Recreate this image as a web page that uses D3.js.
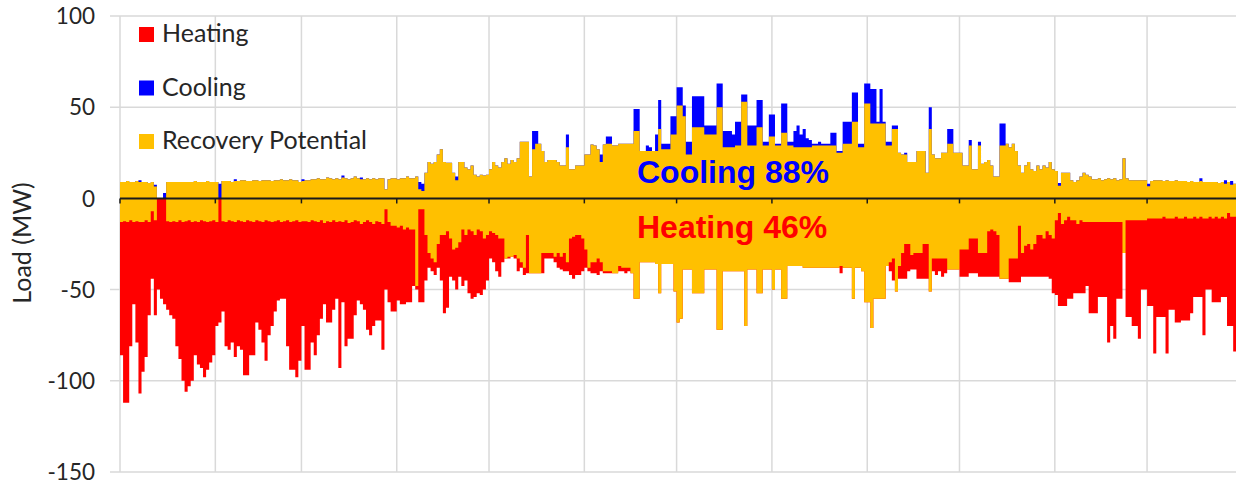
<!DOCTYPE html>
<html>
<head>
<meta charset="utf-8">
<script src="https://cdn.jsdelivr.net/npm/d3@7"></script>
<style>
  body { margin: 0; background: #fff; }
  text { font-family: Lato, "Open Sans", sans-serif; fill: #262626; }
</style>
</head>
<body>
<div id="chart"></div>
<script>
// daily values (MW), one per day of the year
var coolRec = [
  9, 9, 9.5, 9, 9, 9.5, 9, 9, 9, 8.5,
  9, 6.5, 0, 0, 0, 9, 9, 9, 9, 9,
  9, 9, 9, 9, 9.5, 9, 9, 9, 9.5, 9,
  9, 9, 0, 9.5, 9.5, 9.5, 9, 9.5, 9.5, 10,
  10, 9.5, 9.5, 10, 10, 9.5, 10, 10, 10, 9.5,
  10, 10, 10.5, 10, 10, 10.5, 10, 10, 9, 9.5,
  10, 10, 10.5, 10.5, 11, 10.5, 10.5, 11.5, 11, 10.5,
  11, 10.5, 11.5, 11, 10.5, 11, 12, 11, 10.5, 10.5,
  11, 10.5, 11, 10.5, 11, 11, 5, 10.5, 11, 11,
  10.5, 11, 11, 12, 11, 11, 12, 5, 4, 14,
  20, 19, 20, 24, 27, 20, 19.5, 19.5, 14, 10,
  20, 20, 17, 16, 18, 13, 12, 13, 12.5, 13,
  16, 20, 18, 17, 20, 22, 19, 21, 20, 22,
  31, 31, 31, 12, 27, 30, 30, 26, 20, 21,
  21, 21, 20, 18, 18, 28, 16, 16, 18, 18,
  18, 24, 24, 29.5, 29, 27, 20, 29.5, 30, 30,
  29, 29, 30, 30, 30, 30, 30, 37, 37,
  26, 26, 26, 26, 26, 26, 38, 27, 27, 27,
  35, 35, 51, 51, 45, 24, 24, 39, 39, 39,
  39, 35, 35, 35, 35, 50, 50, 28, 28, 28,
  28, 29, 29, 53, 53, 29, 29, 29, 39, 39,
  29, 29, 34, 34, 29, 29, 36, 36, 29, 29,
  28, 28, 28, 28, 28, 28, 29, 29, 29, 29,
  29, 29, 29, 29, 25, 25, 30, 30, 30, 42,
  42, 28, 28, 52, 52, 41, 41, 41, 41, 41,
  29, 29, 38, 38, 25, 24, 24, 20, 20, 20,
  26, 26, 26, 14, 38, 24, 22, 22, 25, 25,
  30, 30, 25, 25, 25, 18, 18, 29, 16, 16,
  29, 19, 20, 21, 18, 12, 12, 29, 29, 30,
  28, 30, 26, 18, 14, 18, 20, 16, 15, 18,
  16, 18, 17, 20, 16, 15, 7, 14, 14, 14,
  10, 9, 10, 12, 14, 13, 12, 10.5, 10.5,
  11, 10, 10.5, 11, 10.5, 11, 10, 10.5, 22, 11,
  10, 10, 10, 10, 10, 10, 6.6, 9.5, 10, 10,
  10, 9.5, 10, 9.5, 9.5, 10, 9.5, 9.5, 9.5, 9,
  9.5, 9, 9, 9.5, 9, 9, 9, 9, 9, 8.5,
  9, 8, 9, 7.5, 8, 8.5, 9
];

var coolTotal = [
  9, 9, 9.5, 9, 9, 9.5, 10, 9, 9, 8.5,
  9, 7.5, 0, 0, 3, 9, 9, 9, 9, 9,
  9, 9, 9, 9, 9.5, 9, 9, 9, 9.5, 9,
  9, 9, 8, 9.5, 9.5, 9.5, 9, 10.5, 9.5, 10,
  10, 9.5, 9.5, 10, 10, 9.5, 10, 10, 10, 9.5,
  10, 10, 10.5, 10, 10, 10.5, 10, 10, 9, 10.5,
  10, 10, 10.5, 10.5, 11, 10.5, 10.5, 11.5, 11, 10.5,
  11, 10.5, 12.5, 11, 10.5, 11, 12, 11, 11.5, 10.5,
  11, 10.5, 11, 10.5, 11, 11, 5, 10.5, 11, 11,
  10.5, 11, 11, 12, 11, 11, 12, 9, 8, 14,
  20, 19, 20, 24, 27, 20, 19.5, 19.5, 14, 12,
  20, 20, 17, 16, 18, 13, 12, 13, 12.5, 13,
  16, 20, 18, 17, 20, 22, 19, 21, 20, 22,
  31, 31, 31, 12, 37, 37, 30, 26, 20, 21,
  21, 21, 20, 18, 18, 35, 16, 16, 18, 18,
  18, 24, 24, 29.5, 29, 27, 24, 29.5, 34, 34,
  29, 29, 30, 30, 30, 30, 30, 49, 49,
  26, 26, 29, 28, 26, 35, 54, 30, 30, 30,
  45, 45, 61, 61, 51, 31, 31, 56, 56, 56,
  56, 40, 40, 40, 40, 63, 63, 37, 37, 37,
  35, 42, 42, 57, 57, 40, 40, 40, 54, 54,
  31, 31, 46, 46, 30, 30, 52, 52, 31, 31,
  37, 40, 35, 38, 33, 32, 30, 30, 31, 30,
  30, 30, 36, 36, 26, 26, 42, 42, 42, 58,
  58, 30, 30, 63, 63, 60, 60, 42, 60, 42,
  31, 31, 40, 40, 25, 24, 25, 20, 20, 20,
  26, 26, 26, 14, 50, 24, 22, 22, 25, 25,
  38, 38, 25, 25, 25, 18, 18, 32, 16, 16,
  31, 19, 20, 21, 18, 12, 12, 41, 41, 30,
  28, 30, 26, 18, 14, 18, 20, 16, 15, 18,
  16, 18, 17, 20, 16, 15, 8.5, 14, 14, 14,
  10, 9, 10, 12, 14, 13, 12, 10.5, 10.5,
  11, 10, 10.5, 11, 10.5, 11, 10, 10.5, 22, 11,
  10, 10, 10, 10, 10, 10, 8, 9.5, 10, 10,
  10, 9.5, 10, 9.5, 9.5, 10, 9.5, 9.5, 9.5, 9,
  9.5, 9, 9, 11, 9, 9, 9, 9, 9, 8.5,
  9, 10, 9, 9.5, 8, 8.5, 9
];

var heatRec = [
  -13, -12.5, -13, -12, -13, -12.5, -13, -13, -12, -13,
  -7, -12, 0, 0, 0, -12.5, -13, -12.5, -13, -12,
  -13, -12.5, -12, -13, -12.5, -13, -12, -12.5, -13, -12.5,
  -12, -13, 0, -12.5, -13, -12, -12.5, -13, -12, -12.5,
  -13, -12, -12.5, -13, -12, -12.5, -13, -12, -12.5, -13,
  -12.5, -12, -13, -12.5, -12, -13, -12.5, -12, -13, -12.5,
  -12.5, -13, -12, -12.5, -13, -12, -13.5, -12.5, -13, -12,
  -13, -12.5, -13, -12, -13.5, -13, -12, -12.5, -14, -13,
  -12, -13, -14, -12.5, -13, -14, -6, -13, -15, -15,
  -16, -15, -17, -16, -17, -17, -48, -6, -6, -20,
  -30, -33, -35, -25, -20, -20, -18, -22, -28, -27,
  -24, -17, -20, -17, -18, -20, -17, -18, -22, -20,
  -18, -19, -20, -22, -22, -33, -32, -32, -31, -33,
  -35, -38, -20, -41, -41, -41, -41, -30, -30, -30,
  -30, -32, -30, -32, -30, -35, -22, -21, -20, -20,
  -22, -28, -38, -35, -35, -33, -35, -40, -40, -40,
  -41, -41, -37, -38, -38, -38, -41, -55, -55,
  -35, -35, -35, -35, -35, -36, -52, -36, -36, -36,
  -36, -51, -68, -66, -39, -39, -39, -52, -52, -52,
  -52, -39, -39, -39, -39, -72, -72, -40, -40, -40,
  -40, -40, -40, -40, -70, -39, -39, -39, -52, -52,
  -39, -39, -39, -50, -39, -39, -55, -55, -37, -37,
  -37, -37, -37, -38, -38, -38, -38, -38, -38, -38,
  -38, -38, -38, -38, -38, -37, -38, -38, -38, -55,
  -38, -38, -40, -57, -57, -71, -55, -55, -55, -55,
  -37, -35, -33, -51, -37, -30, -25, -25, -31, -30,
  -30, -30, -25, -25, -51, -33, -33, -33, -33, -33,
  -39, -39, -39, -39, -28, -28, -28, -22, -22, -22,
  -30, -30, -30, -18, -17, -18, -20, -44, -44, -44,
  -33, -33, -33, -15, -30, -26, -25, -28, -25, -20,
  -20, -22, -18, -20, -22, -12, -8, -14, -12, -10,
  -12, -12, -14, -12, -13, -13, -13, -13, -13,
  -13, -13, -13, -13, -13, -13, -13, -13, -30, -12,
  -12, -12, -12, -12, -12, -12, -11, -11, -11, -11,
  -11, -10, -11, -11, -11, -10, -11, -11, -10, -11,
  -11, -10, -11, -10, -11, -11, -10, -11, -10, -11,
  -10, -11, -8, -10, -10, -10, -10
];

var heatTotal = [
  -86, -112, -112, -81, -58, -79, -107, -95, -87, -64,
  -44, -64, -50, -55, -58, -61, -64, -66, -81, -88,
  -100, -106, -103, -100, -86, -91, -93, -98, -94, -90,
  -86, -70, -68, -62, -81, -83, -79, -87, -81, -83,
  -97, -97, -86, -86, -68, -72, -79, -89, -75, -70,
  -62, -56, -55, -55, -81, -94, -94, -98, -89, -70,
  -94, -94, -79, -86, -75, -66, -58, -68, -68, -61,
  -55, -93, -57, -81, -77, -77, -64, -56, -58, -61,
  -72, -75, -70, -67, -67, -83, -50, -57, -62, -62,
  -56, -58, -58, -57, -57, -48, -50, -57, -57, -45,
  -38, -40, -42, -38, -45, -63, -60, -43, -45, -50,
  -43, -48, -45, -52, -55, -54, -52, -53, -50, -45,
  -33, -35, -40, -43, -35, -33, -33, -32, -33, -40,
  -38, -42, -41, -41, -41, -41, -41, -41, -33, -33,
  -33, -35, -38, -39, -40, -40, -42, -44, -42, -42,
  -40, -38, -40, -41, -41, -42, -40, -41, -41, -41,
  -41, -41, -40, -40, -41, -40, -41, -55, -55,
  -35, -35, -35, -35, -35, -36, -52, -36, -36, -36,
  -36, -51, -68, -66, -39, -39, -39, -52, -52, -52,
  -52, -39, -39, -39, -39, -72, -72, -40, -40, -40,
  -40, -40, -40, -40, -70, -39, -39, -39, -52, -52,
  -39, -39, -39, -50, -39, -39, -55, -55, -37, -37,
  -37, -37, -37, -38, -38, -38, -38, -38, -38, -38,
  -38, -38, -38, -38, -38, -41, -38, -38, -38, -55,
  -38, -38, -40, -57, -57, -71, -55, -55, -55, -55,
  -37, -40, -45, -51, -44, -44, -44, -40, -39, -39,
  -44, -44, -44, -44, -51, -40, -42, -40, -43, -41,
  -39, -39, -39, -39, -43, -43, -43, -41, -41, -41,
  -43, -43, -43, -43, -43, -43, -43, -44, -44, -44,
  -46, -46, -46, -46, -43, -43, -43, -43, -43, -43,
  -43, -43, -43, -44, -52, -53, -59, -59, -59, -55,
  -55, -52, -52, -52, -52, -48, -63, -63, -63,
  -54, -54, -54, -79, -70, -77, -55, -55, -30, -65,
  -65, -70, -70, -77, -50, -50, -59, -59, -85, -65,
  -65, -65, -85, -61, -61, -68, -68, -67, -67, -67,
  -63, -54, -54, -54, -75, -50, -50, -57, -57, -57,
  -54, -54, -70, -70, -84, -84, -80
];

var monthStarts = [0, 31, 59, 90, 120, 151, 181, 212, 243, 273, 304, 334, 365];
var yTicks = [100, 50, 0, -50, -100, -150];
var legendNames = ["Heating", "Cooling", "Recovery Potential"];
var legendColors = ["#ff0000", "#0000ff", "#ffc000"];

var width = 1236,
    height = 483;

var svg = d3.select("#chart").append("svg")
    .attr("width", width)
    .attr("height", height);

var x = d3.scaleLinear().domain([0, 365]).range([120, 1242.4]);
var y = d3.scaleLinear().domain([-150, 100]).range([472, 16]);

// horizontal gridlines (not the zero line, that one is the black axis)
svg.append("g").selectAll("line")
    .data(yTicks.filter(function(d) { return d != 0; }))
    .enter().append("line")
    .attr("x1", 110).attr("x2", width)
    .attr("y1", function(d) { return y(d); })
    .attr("y2", function(d) { return y(d); })
    .attr("stroke", "#d9d9d9")
    .attr("stroke-width", 1.5);

// month gridlines
svg.append("g").selectAll("line")
    .data(monthStarts)
    .enter().append("line")
    .attr("x1", function(d) { return x(d); })
    .attr("x2", function(d) { return x(d); })
    .attr("y1", y(100)).attr("y2", y(-150))
    .attr("stroke", "#d9d9d9")
    .attr("stroke-width", 1.5);

function stepArea(values) {
  var pts = values.concat([values[values.length - 1]]);
  return d3.area()
      .x(function(d, i) { return x(i); })
      .y0(y(0))
      .y1(function(d) { return y(d); })
      .curve(d3.curveStepAfter)(pts);
}

svg.append("path").attr("d", stepArea(heatTotal)).attr("fill", "#ff0000");
svg.append("path").attr("d", stepArea(heatRec)).attr("fill", "#ffc000");
svg.append("path").attr("d", stepArea(coolTotal)).attr("fill", "#0000ff");
svg.append("path").attr("d", stepArea(coolRec)).attr("fill", "#ffc000");

// zero line with month ticks
svg.append("line")
    .attr("x1", x(0)).attr("x2", width)
    .attr("y1", y(0)).attr("y2", y(0))
    .attr("stroke", "#1a1a1a")
    .attr("stroke-width", 2);

svg.append("g").selectAll("line")
    .data(monthStarts)
    .enter().append("line")
    .attr("x1", function(d) { return x(d); })
    .attr("x2", function(d) { return x(d); })
    .attr("y1", y(0)).attr("y2", y(0) + 5)
    .attr("stroke", "#1a1a1a")
    .attr("stroke-width", 1.5);

// y tick labels
svg.append("g").selectAll("text")
    .data(yTicks)
    .enter().append("text")
    .attr("x", 95)
    .attr("y", function(d) { return y(d); })
    .attr("dy", "0.36em")
    .attr("text-anchor", "end")
    .style("font-size", "22.5px")
    .text(function(d) { return d; });

svg.append("text")
    .attr("transform", "translate(31,243) rotate(-90)")
    .attr("text-anchor", "middle")
    .style("font-size", "25px")
    .text("Load (MW)");

// legend
var legend = svg.append("g").selectAll("g")
    .data(legendNames)
    .enter().append("g")
    .attr("transform", function(d, i) { return "translate(139," + (27 + i * 53.5) + ")"; });

legend.append("rect")
    .attr("width", 15).attr("height", 15)
    .attr("fill", function(d, i) { return legendColors[i]; });

legend.append("text")
    .attr("x", 23).attr("y", 15)
    .style("font-size", "25px")
    .text(function(d) { return d; });

// annotations
svg.append("text")
    .attr("x", 637).attr("y", 183)
    .style("font-family", "'Liberation Sans', Arial, sans-serif")
    .style("font-weight", "bold")
    .style("font-size", "32px")
    .style("fill", "#0000ff")
    .text("Cooling 88%");

svg.append("text")
    .attr("x", 637).attr("y", 238)
    .style("font-family", "'Liberation Sans', Arial, sans-serif")
    .style("font-weight", "bold")
    .style("font-size", "32px")
    .style("fill", "#ff0000")
    .text("Heating 46%");
</script>
</body>
</html>
